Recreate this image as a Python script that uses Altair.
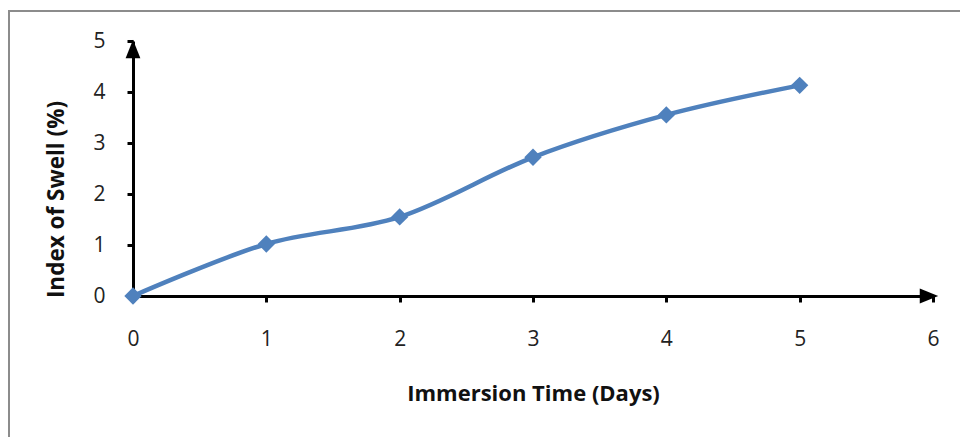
import altair as alt
import pandas as pd

days = [0, 1, 2, 3, 4, 5]
swell = [0.0, 1.02, 1.55, 2.72, 3.55, 4.13]
x_ticks = [0, 1, 2, 3, 4, 5, 6]
y_ticks = [0, 1, 2, 3, 4, 5]

df = pd.DataFrame({"day": days, "swell": swell})

FONT = "Open Sans"
BLUE = "#4F81BD"

xscale = alt.Scale(domain=[0, 6], nice=False, zero=False)
yscale = alt.Scale(domain=[0, 5], nice=False)

xaxis = alt.Axis(
    values=x_ticks, format="d", grid=False, domainColor="black", domainWidth=3,
    tickColor="black", tickWidth=3, tickSize=6, labelFont=FONT, labelFontSize=21,
    labelColor="#222", labelPadding=26, labelBaseline="top", labelFlush=False,
    title="Immersion Time (Days)",
    titleFont=FONT, titleFontSize=22, titleFontWeight="bold", titleColor="#111",
    titleX=400, titleY=97, titleBaseline="middle", titleAlign="center",
)
yaxis = alt.Axis(
    values=y_ticks, format="d", grid=False, domainColor="black", domainWidth=3,
    tickColor="black", tickWidth=3, tickSize=6, labelFont=FONT, labelFontSize=21,
    labelColor="#222", labelPadding=22, labelFlush=False, title="Index of Swell (%)",
    titleFont=FONT, titleFontSize=22.5, titleFontWeight="bold", titleColor="#111",
    titleX=-77, titleY=158, titleBaseline="middle", titleAlign="center", titleAngle=-90,
)

base = alt.Chart(df)

axes = base.mark_point(opacity=0).encode(
    x=alt.X("day:Q", scale=xscale, axis=xaxis),
    y=alt.Y("swell:Q", scale=yscale, axis=yaxis),
)

arrow_df = pd.DataFrame({"ax": [0, 6], "ay": [5, 0]})
up_arrow = alt.Chart(arrow_df.iloc[[0]]).mark_point(
    shape="M0,-1L0.8,1L-0.8,1Z", filled=True, color="black", opacity=1, size=340, yOffset=8
).encode(x=alt.X("ax:Q", scale=xscale), y=alt.Y("ay:Q", scale=yscale))
right_arrow = alt.Chart(arrow_df.iloc[[1]]).mark_point(
    shape="M1,0L-1,0.8L-1,-0.8Z", filled=True, color="black", opacity=1, size=340, xOffset=-4
).encode(x=alt.X("ax:Q", scale=xscale), y=alt.Y("ay:Q", scale=yscale))

line = base.mark_line(color=BLUE, strokeWidth=4.5, interpolate="cardinal").encode(
    x=alt.X("day:Q", scale=xscale), y=alt.Y("swell:Q", scale=yscale)
)
pts = base.mark_point(shape="diamond", filled=True, color=BLUE, opacity=1, size=300).encode(
    x=alt.X("day:Q", scale=xscale), y=alt.Y("swell:Q", scale=yscale)
)

border = alt.Chart(pd.DataFrame({"a": [0]})).mark_rect(
    fill=None, stroke="#8c8c8c", strokeWidth=2
).encode(x=alt.value(-124), x2=alt.value(900), y=alt.value(-30), y2=alt.value(450))

chart = alt.layer(border, axes, up_arrow, right_arrow, line, pts).properties(
    width=800, height=255,
    padding={"left": 133, "top": 41, "right": 27, "bottom": 141},
    autosize="none", background="white",
).configure_view(stroke=None)

chart.save("out.html", embed_options={"renderer": "svg", "actions": False})
